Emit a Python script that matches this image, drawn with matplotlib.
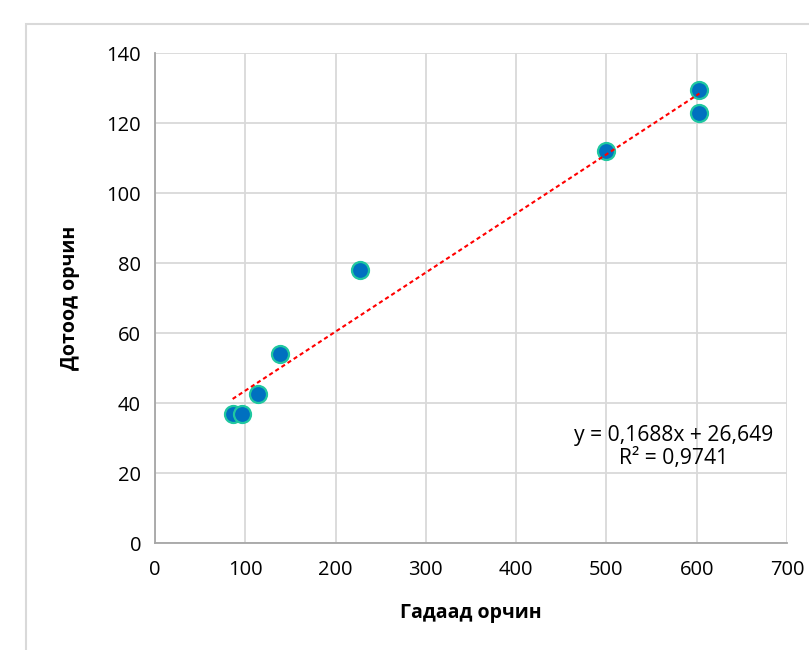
import matplotlib
matplotlib.use('Agg')
from matplotlib import pyplot as plt
from matplotlib.patches import Rectangle
import numpy as np

plt.rcParams['font.family'] = ['Open Sans', 'DejaVu Sans']

# values
gadaad = [86, 96, 114, 138, 227, 499, 603, 603]
dotood = [37, 37, 42.5, 54, 78, 112, 129.5, 123]
x_ticks = [0, 100, 200, 300, 400, 500, 600, 700]
y_ticks = [0, 20, 40, 60, 80, 100, 120, 140]
slope = 0.1688
intercept = 26.649
eq_text = "y = 0,1688x + 26,649\nR² = 0,9741"

fig = plt.figure(figsize=(8.09, 6.5), dpi=100)
ax = fig.add_axes([0.1916, 0.1646, 0.7812, 0.7538])

# chart area border
fig.patches.append(Rectangle((26 / 809, -0.05), 1.0, (650 - 24) / 650 + 0.05,
                             transform=fig.transFigure, fill=False,
                             edgecolor='#D9D9D9', linewidth=1.5))

ax.scatter(gadaad, dotood, s=150, color='#0070C0', edgecolors='#1FC7A0',
           linewidths=1.6, zorder=3)

# linear trendline over the data range
tx = np.array([min(gadaad), max(gadaad)])
ax.plot(tx, slope * tx + intercept, color='#FF0000', linewidth=1.5,
        dashes=(2, 1.5), zorder=4)

ax.set_xlim(0, 700)
ax.set_ylim(0, 140)
ax.set_xticks(x_ticks)
ax.set_yticks(y_ticks)
ax.tick_params(axis='x', length=0, labelsize=14.5, pad=12, colors='#000000')
ax.tick_params(axis='y', length=0, labelsize=14.5, pad=10, colors='#000000')
ax.grid(True, color='#D9D9D9', linewidth=1.3)
ax.set_axisbelow(True)
for s in ['top', 'right']:
    ax.spines[s].set_visible(False)
for s in ['left', 'bottom']:
    ax.spines[s].set_color('#A6A6A6')
    ax.spines[s].set_linewidth(1.3)

ax.set_xlabel("Гадаад орчин", fontsize=14, fontweight='bold', labelpad=17)
ax.set_ylabel("Дотоод орчин", fontsize=14, fontweight='bold', labelpad=19)

ax.text(574, 27.4, eq_text, fontsize=15.2, ha='center', va='center',
        linespacing=1.1)

plt.savefig('out.png', dpi=100)
